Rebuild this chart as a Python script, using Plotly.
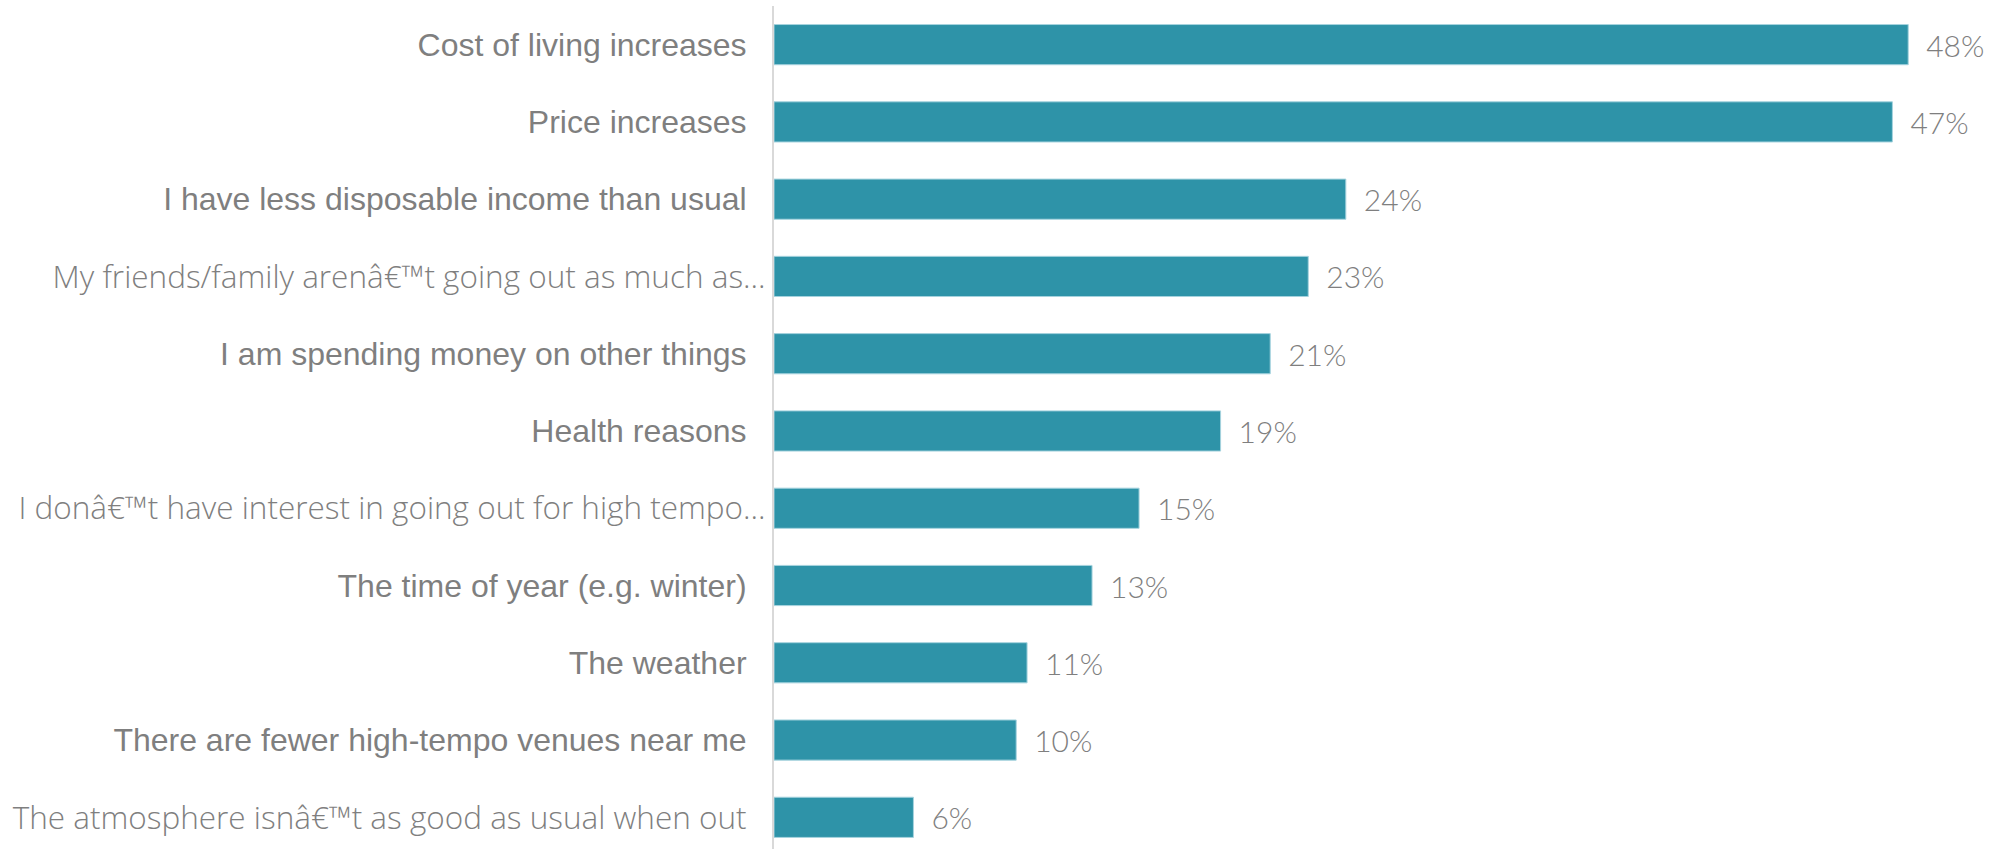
import plotly.graph_objects as go

categories = [
    "Cost of living increases",
    "Price increases",
    "I have less disposable income than usual",
    "My friends/family arenâ€™t going out as much as...",
    "I am spending money on other things",
    "Health reasons",
    "I donâ€™t have interest in going out for high tempo...",
    "The time of year (e.g. winter)",
    "The weather",
    "There are fewer high-tempo venues near me",
    "The atmosphere isnâ€™t as good as usual when out",
]
values = [48.0, 47.33, 24.2, 22.61, 21.0, 18.9, 15.45, 13.46, 10.71, 10.25, 5.9]
value_labels = ["48%", "47%", "24%", "23%", "21%", "19%", "15%", "13%", "11%", "10%", "6%"]
light_font = [False, False, False, True, False, False, True, False, False, False, True]
truncated = [False, False, False, True, False, False, True, False, False, False, False]

TEXT_COLOR = "#7f7f7f"
BAR_COLOR = "#2e93a8"

pad = '<span style="font-size:19px">\u2003</span>'
ticktext = []
for lab, lf, tr in zip(categories, light_font, truncated):
    if lf:
        t = '<span style="font-family:Open Sans;font-weight:300;font-size:31.5px">' + lab + '</span>'
    else:
        t = lab
    if not tr:
        t = t + pad
    ticktext.append(t)

fig = go.Figure(
    go.Bar(
        x=values,
        y=categories,
        orientation="h",
        marker=dict(color=BAR_COLOR, line=dict(color="#a6d3de", width=1)),
        width=0.52,
        text=["\u2002" + s for s in value_labels],
        textposition="outside",
        textfont=dict(family="Lato", size=30, color=TEXT_COLOR, weight=300),
        constraintext="none",
        cliponaxis=False,
        hoverinfo="skip",
    )
)

fig.update_layout(
    width=1998,
    height=849,
    margin=dict(l=774, r=0, t=6, b=0),
    paper_bgcolor="white",
    plot_bgcolor="white",
    showlegend=False,
    xaxis=dict(
        range=[0, 51.8],
        showgrid=False,
        zeroline=False,
        showticklabels=False,
        showline=False,
        fixedrange=True,
    ),
    yaxis=dict(
        type="category",
        categoryorder="array",
        categoryarray=categories,
        range=[10.41, -0.5],
        tickmode="array",
        tickvals=categories,
        ticktext=ticktext,
        tickfont=dict(family="Liberation Sans, Arial", size=32, color=TEXT_COLOR),
        showgrid=False,
        zeroline=False,
        showline=True,
        linecolor="#d9d9d9",
        linewidth=2,
        ticks="",
        ticklabelstandoff=0,
        fixedrange=True,
    ),
)

fig.write_html("out.html")
